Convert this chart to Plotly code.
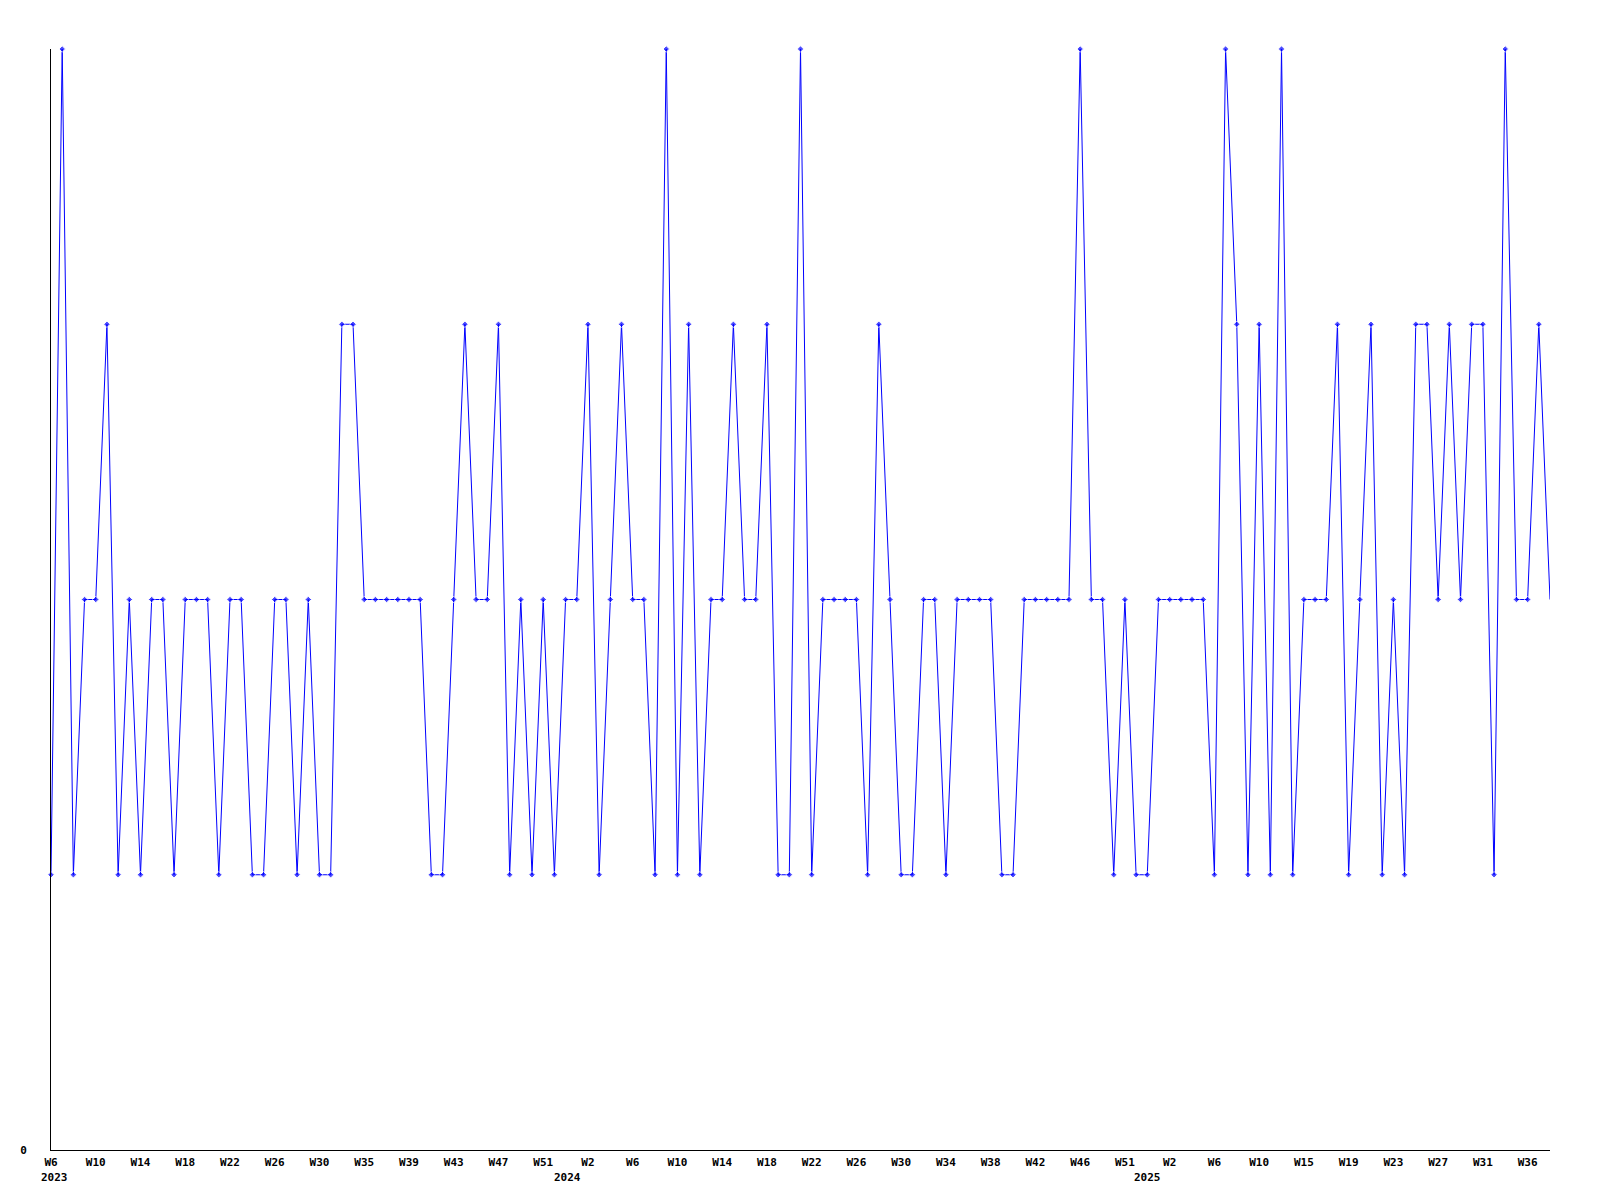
import plotly.graph_objects as go

# Weekly values (one per plotted week, starting 2023 W6)
values = [
    1, 4, 1, 2, 2, 3, 1, 2, 1, 2,
    2, 1, 2, 2, 2, 1, 2, 2, 1, 1,
    2, 2, 1, 2, 1, 1, 3, 3, 2, 2,
    2, 2, 2, 2, 1, 1, 2, 3, 2, 2,
    3, 1, 2, 1, 2, 1, 2, 2, 3, 1,
    2, 3, 2, 2, 1, 4, 1, 3, 1, 2,
    2, 3, 2, 2, 3, 1, 1, 4, 1, 2,
    2, 2, 2, 1, 3, 2, 1, 1, 2, 2,
    1, 2, 2, 2, 2, 1, 1, 2, 2, 2,
    2, 2, 4, 2, 2, 1, 2, 1, 1, 2,
    2, 2, 2, 2, 1, 4, 3, 1, 3, 1,
    4, 1, 2, 2, 2, 3, 1, 2, 3, 1,
    2, 1, 3, 3, 2, 3, 2, 3, 3, 1,
    4, 2, 2, 3, 2,
]

# Week tick labels (every 4th plotted week)
week_labels = [
    "W6", "W10", "W14", "W18", "W22", "W26", "W30", "W35", "W39", "W43", "W47", "W51",
    "W2", "W6", "W10", "W14", "W18", "W22", "W26", "W30", "W34", "W38", "W42", "W46", "W51",
    "W2", "W6", "W10", "W15", "W19", "W23", "W27", "W31", "W36",
]
label_step = 4

# Year labels and the index of the first plotted week of that year
year_labels = ["2023", "2024", "2025"]
year_first_index = [0, 46, 98]
year_shift = [3, 2, 0]

x = list(range(len(values)))
tickvals = list(range(0, len(week_labels) * label_step, label_step))

font = dict(family="DejaVu Sans Mono", size=11, color="black", weight="bold")

sizes = [5] * (len(values) - 1) + [0]

fig = go.Figure()
fig.add_trace(go.Scatter(
    x=x, y=values, mode="lines+markers",
    line=dict(color="#0000ff", width=1),
    marker=dict(symbol="diamond", size=sizes, color="#0000ff"),
    cliponaxis=False, showlegend=False,
))

for lab, idx, sh in zip(year_labels, year_first_index, year_shift):
    fig.add_annotation(x=idx, y=0, xref="x", yref="paper", text=lab,
                       showarrow=False, xanchor="center", yanchor="middle",
                       yshift=-27, xshift=sh, font=font)

fig.update_layout(
    width=1600, height=1200,
    margin=dict(l=51, r=50, t=49, b=50),
    paper_bgcolor="white", plot_bgcolor="white",
    font=font,
)
fig.update_xaxes(range=[0, len(values) - 1], showgrid=False, zeroline=False,
                 showline=True, linecolor="black", linewidth=1,
                 tickvals=tickvals, ticktext=week_labels, ticks="",
                 tickfont=font, ticklabelstandoff=2)
fig.update_yaxes(range=[0, 4], showgrid=False, zeroline=False,
                 showline=True, linecolor="black", linewidth=1,
                 tickvals=[0], ticktext=["0"], ticks="",
                 tickfont=font, ticklabelstandoff=21)

fig.write_html("out.html", config={"displayModeBar": False},
               post_script="document.body.style.margin='0';document.body.style.overflow='hidden';")
